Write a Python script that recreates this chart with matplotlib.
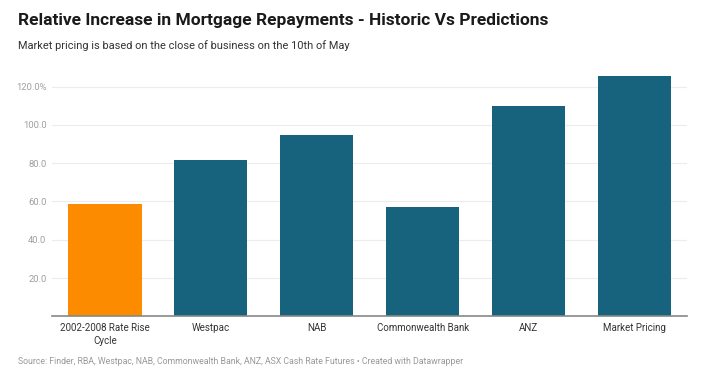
import matplotlib.pyplot as plt

categories = ["2002-2008 Rate Rise\nCycle", "Westpac", "NAB", "Commonwealth Bank", "ANZ", "Market Pricing"]
values = [58.6, 81.5, 94.6, 57.0, 109.7, 125.4]
yticks = [20, 40, 60, 80, 100, 120]
ytick_labels = ["20.0", "40.0", "60.0", "80.0", "100.0", "120.0%"]

plt.rcParams["font.family"] = ["Roboto", "DejaVu Sans"]

fig = plt.figure(figsize=(7.06, 3.77), dpi=100)
ax = fig.add_axes([0.0737, 0.161, 0.90, 0.65])

colors = ["#fc8b00"] + ["#17627c"] * (len(values) - 1)
ax.bar(range(len(values)), values, width=0.69, color=colors, zorder=2)

ax.set_xlim(-0.5, 5.5)
ax.set_ylim(0, 128)
ax.set_yticks(yticks)
ax.set_yticklabels(ytick_labels, color="#a0a0a0", fontsize=6.8)
ax.set_xticks(range(len(categories)))
ax.set_xticklabels(categories, color="#333333", fontsize=7.0, linespacing=1.3)
ax.tick_params(axis="both", length=0)
ax.tick_params(axis="y", pad=4)
ax.tick_params(axis="x", pad=5)
ax.grid(axis="y", color="#ececec", linewidth=0.8, zorder=0)
for s in ["top", "right", "left"]:
    ax.spines[s].set_visible(False)
ax.spines["bottom"].set_color("#888888")
ax.spines["bottom"].set_linewidth(1.2)

fig.text(0.025, 0.945, "Relative Increase in Mortgage Repayments - Historic Vs Predictions",
         fontsize=12.5, fontweight="bold", color="#1a1a1a", va="center")
fig.text(0.025, 0.878, "Market pricing is based on the close of business on the 10th of May",
         fontsize=7.9, color="#333333", va="center")
fig.text(0.025, 0.04, "Source: Finder, RBA, Westpac, NAB, Commonwealth Bank, ANZ, ASX Cash Rate Futures \u2022 Created with Datawrapper",
         fontsize=6.3, color="#999999", va="center")

fig.savefig("out.png", dpi=100)
